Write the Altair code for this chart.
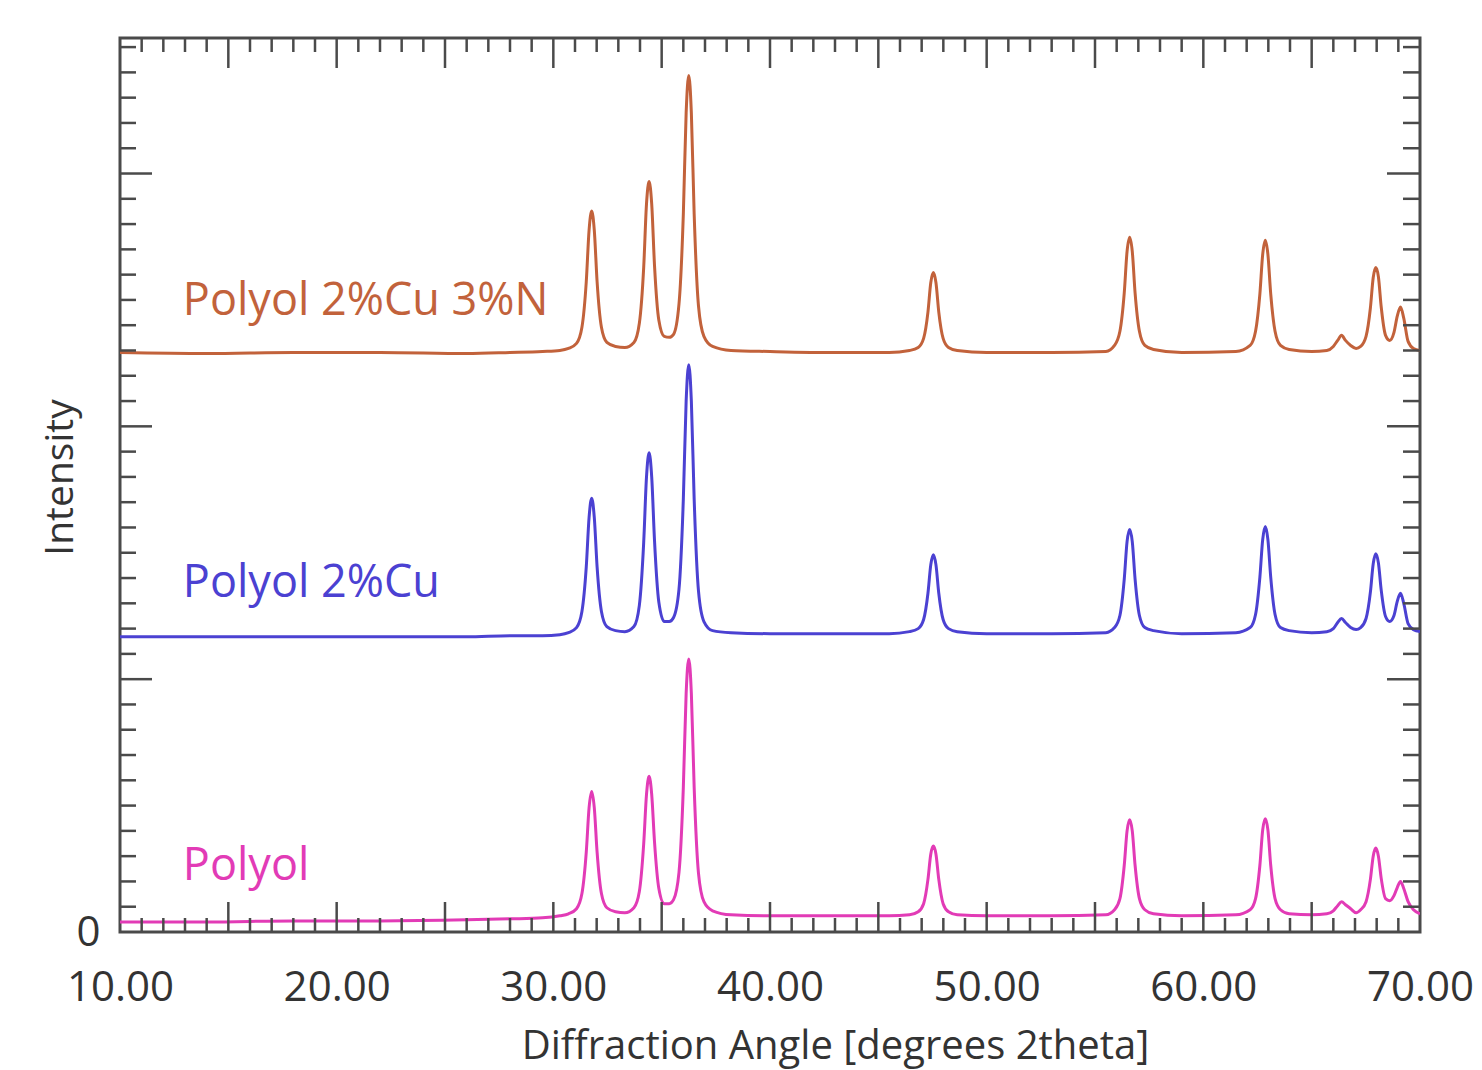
import altair as alt
import pandas as pd

# Diffraction angle grid (degrees 2theta), shared by all three patterns
angle = [
    10, 14, 18, 22, 26, 28, 29.5, 30.3,
    30.7, 31.07, 31.32, 31.52, 31.65, 31.77, 31.89, 32.02, 32.22, 32.47, 32.87,
    33.3,
    33.72, 33.97, 34.17, 34.30, 34.42, 34.54, 34.67, 34.87, 35.12,
    35.35,
    35.55, 35.80, 36.00, 36.13, 36.25, 36.37, 36.50, 36.70, 36.95, 37.35,
    38.2, 40, 43, 45.5, 46.44,
    46.84, 47.09, 47.29, 47.42, 47.54, 47.66, 47.79, 47.99, 48.24, 48.64,
    50, 53, 55.5,
    55.9, 56.15, 56.35, 56.48, 56.6, 56.72, 56.85, 57.05, 57.3, 57.7,
    59, 61.5,
    62.16, 62.41, 62.61, 62.74, 62.86, 62.98, 63.11, 63.31, 63.56, 63.96,
    65.0, 65.7,
    66.0, 66.2, 66.38, 66.56, 66.8,
    67.05, 67.26, 67.51, 67.71, 67.84, 67.96, 68.08, 68.21, 68.41, 68.6, 68.8, 68.95, 69.1, 69.25, 69.45, 69.7, 70,
]

polyol_cu_n = [
    573, 572, 573, 573, 572, 573, 574, 575,
    577, 582, 598, 643, 694, 713, 694, 643, 598, 583, 579,
    578,
    583, 602, 657, 720, 742, 720, 659, 605, 589,
    588,
    591, 621, 710, 810, 847, 810, 710, 619, 589, 579,
    575, 574, 573, 573, 575,
    578, 587, 613, 642, 652, 642, 613, 587, 578, 575,
    573, 573, 574,
    580, 594, 632, 673, 687, 673, 632, 594, 580, 576,
    573, 574,
    580, 594, 631, 670, 684, 670, 631, 594, 580, 576,
    574, 575,
    579, 585, 590, 585, 580,
    577, 579, 589, 617, 647, 657, 648, 618, 590, 585, 593, 609, 618, 607, 584, 577, 575,
]

polyol_cu = [
    292, 292, 292, 292, 292, 293, 293, 294,
    296, 301, 317, 361, 410, 429, 410, 361, 317, 302, 298,
    297,
    302, 323, 385, 450, 474, 450, 387, 326, 307,
    307,
    311, 339, 428, 525, 561, 525, 428, 337, 307, 298,
    296, 295, 295, 295, 297,
    300, 309, 335, 363, 373, 363, 335, 309, 300, 297,
    295, 295, 296,
    301, 313, 349, 386, 398, 386, 349, 313, 301, 298,
    295, 296,
    301, 314, 351, 388, 401, 388, 351, 314, 301, 298,
    296, 297,
    300, 306, 310, 306, 301,
    299, 301, 310, 336, 364, 374, 365, 338, 312, 307, 313, 327, 335, 325, 305, 299, 297,
]

polyol = [
    10, 10, 11, 11, 12, 13, 14, 16,
    18, 23, 38, 79, 123, 139, 123, 79, 38, 24, 20,
    19,
    24, 40, 87, 136, 154, 136, 89, 43, 28,
    28,
    32, 59, 143, 236, 270, 236, 143, 58, 30, 21,
    17, 16, 16, 16, 17,
    20, 28, 52, 77, 85, 77, 52, 28, 20, 17,
    16, 16, 17,
    22, 33, 66, 100, 111, 100, 66, 33, 22, 18,
    16, 17,
    22, 33, 66, 101, 112, 101, 66, 33, 22, 18,
    17, 18,
    21, 26, 30, 27, 23,
    19, 22, 30, 52, 75, 83, 75, 53, 33, 31, 36, 44, 50, 43, 30, 22, 18,
]

assert len(angle) == len(polyol_cu_n) == len(polyol_cu) == len(polyol)

series_names = ["Polyol 2%Cu 3%N", "Polyol 2%Cu", "Polyol"]
series_colors = ["#C2623B", "#4B41D2", "#E23BB6"]
label_angle = [12.9, 12.9, 12.9]
label_intensity = [610, 331, 51]

x_labels = [10, 20, 30, 40, 50, 60, 70]
x_minor = [v for v in range(11, 70) if v % 5 != 0]
x_major = [15, 20, 25, 30, 35, 40, 45, 50, 55, 60, 65]
y_minor = [25 * k for k in range(1, 36) if k % 10 != 0]
y_major = [250, 500, 750]

X_DOMAIN = [10, 70]
Y_DOMAIN = [0, 884]
FONT = "Open Sans"
W, H = 1300, 894

rows = []
for name, vals in zip(series_names, [polyol_cu_n, polyol_cu, polyol]):
    for a, v in zip(angle, vals):
        rows.append({"angle": a, "intensity": v, "series": name})
df = pd.DataFrame(rows)

labels_df = pd.DataFrame({"series": series_names, "angle": label_angle, "intensity": label_intensity})

xscale = alt.Scale(domain=X_DOMAIN, nice=False, zero=False)
yscale = alt.Scale(domain=Y_DOMAIN, nice=False, zero=False)
cscale = alt.Scale(domain=series_names, range=series_colors)

x_axis = alt.Axis(
    values=x_labels, format=".2f", ticks=False, domain=False, grid=False,
    labelFlush=False, labelOverlap=False,
    labelFont=FONT, labelFontSize=42, labelColor="#333333", labelPadding=35,
    title="Diffraction Angle [degrees 2theta]", titleFont=FONT, titleFontSize=40,
    titleFontWeight="normal", titleColor="#333333", titleX=715, titleY=126,
    titleAlign="center", titleBaseline="alphabetic")
y_axis = alt.Axis(
    values=[0], ticks=False, domain=False, grid=False, labelFlush=False,
    labelFont=FONT, labelFontSize=42, labelColor="#333333", labelPadding=20,
    title="Intensity", titleFont=FONT, titleFontSize=39, titleFontWeight="normal",
    titleColor="#333333", titleX=-48, titleY=439, titleAngle=270,
    titleAlign="center", titleBaseline="alphabetic")

lines = alt.Chart(df).mark_line(strokeWidth=3, interpolate="monotone", clip=True).encode(
    x=alt.X("angle:Q", scale=xscale, axis=x_axis),
    y=alt.Y("intensity:Q", scale=yscale, axis=y_axis),
    color=alt.Color("series:N", scale=cscale, legend=None),
    detail="series:N",
)

texts = alt.Chart(labels_df).mark_text(align="left", baseline="alphabetic", font=FONT, fontSize=45).encode(
    x=alt.X("angle:Q", scale=xscale, axis=x_axis),
    y=alt.Y("intensity:Q", scale=yscale, axis=y_axis),
    color=alt.Color("series:N", scale=cscale, legend=None),
    text="series:N",
)

TICK_COLOR = "#4a4a4a"
TW = 2.5


def xticks(vals, y0, y1):
    return alt.Chart(pd.DataFrame({"t": vals})).mark_rule(color=TICK_COLOR, strokeWidth=TW).encode(
        x=alt.X("t:Q", scale=xscale, axis=x_axis), y=alt.value(y0), y2=alt.value(y1))


def yticks(vals, x0, x1):
    return alt.Chart(pd.DataFrame({"t": vals})).mark_rule(color=TICK_COLOR, strokeWidth=TW).encode(
        y=alt.Y("t:Q", scale=yscale, axis=y_axis), x=alt.value(x0), x2=alt.value(x1))


ticks = [
    xticks(x_minor, H, H - 14), xticks(x_major, H, H - 30),
    xticks(x_minor, 0, 14), xticks(x_major, 0, 30),
    yticks(y_minor, 0, 16), yticks(y_major, 0, 32),
    yticks(y_minor, W, W - 17), yticks(y_major, W, W - 33),
]

chart = alt.layer(lines, texts, *ticks).properties(
    width=W, height=H,
    autosize=alt.AutoSizeParams(type="none"),
    padding={"left": 112, "top": 30, "right": 54, "bottom": 140},
).configure_view(stroke="#4a4a4a", strokeWidth=3)

chart.save("out.html", embed_options={"renderer": "svg", "actions": False})
